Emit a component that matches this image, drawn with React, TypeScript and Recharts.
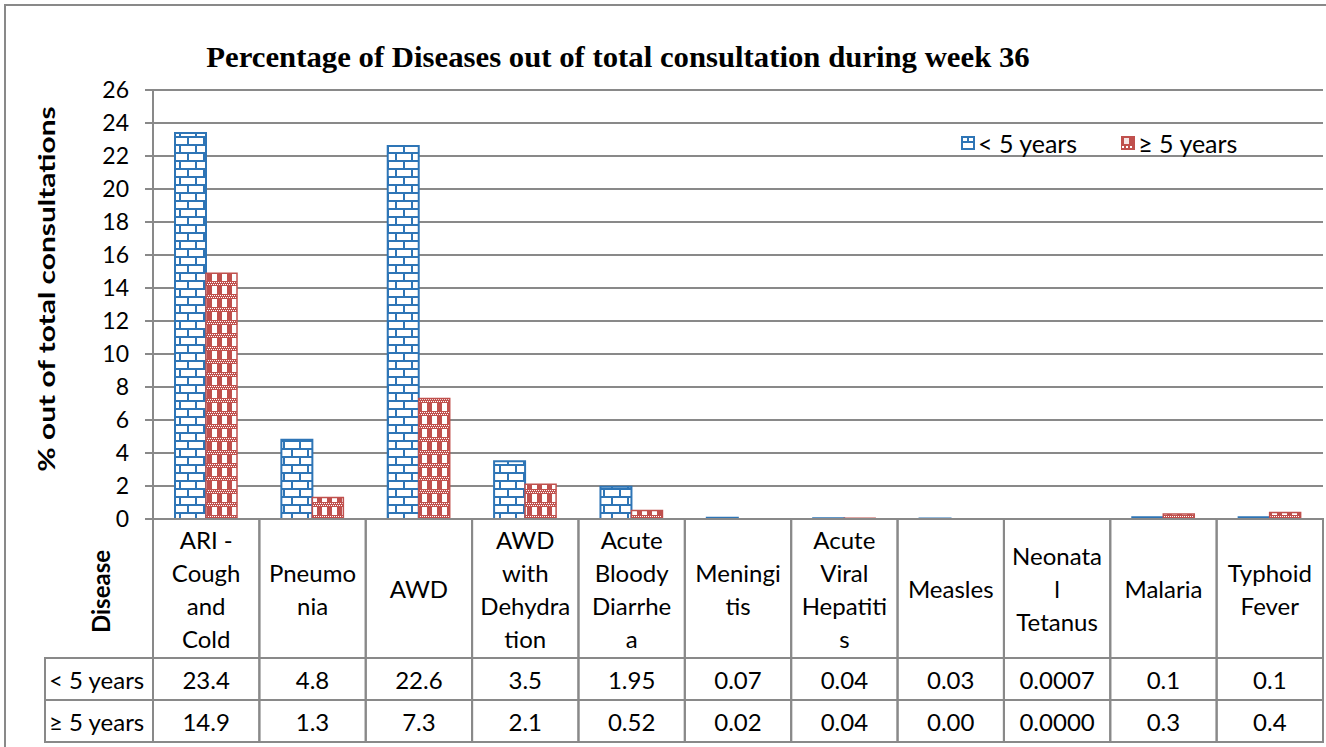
import React from 'react';
import { BarChart, Bar, XAxis, YAxis, CartesianGrid } from 'recharts';

const categories = [
  'ARI -\nCough\nand\nCold',
  'Pneumo\nnia',
  'AWD',
  'AWD\nwith\nDehydra\ntion',
  'Acute\nBloody\nDiarrhe\na',
  'Meningi\ntis',
  'Acute\nViral\nHepatiti\ns',
  'Measles',
  'Neonata\nl\nTetanus',
  'Malaria',
  'Typhoid\nFever',
];
const under5 = [23.4, 4.8, 22.6, 3.5, 1.95, 0.07, 0.04, 0.03, 0.0007, 0.1, 0.1];
const over5 = [14.9, 1.3, 7.3, 2.1, 0.52, 0.02, 0.04, 0.0, 0.0, 0.3, 0.4];
const under5Labels = ['23.4', '4.8', '22.6', '3.5', '1.95', '0.07', '0.04', '0.03', '0.0007', '0.1', '0.1'];
const over5Labels = ['14.9', '1.3', '7.3', '2.1', '0.52', '0.02', '0.04', '0.00', '0.0000', '0.3', '0.4'];
const yTicks = [0, 2, 4, 6, 8, 10, 12, 14, 16, 18, 20, 22, 24, 26];
const seriesNames = ['< 5 years', '≥ 5 years'];

const data = categories.map((c, i) => ({ disease: c, under5: under5[i], over5: over5[i] }));

const W = 1326;
const H = 747;
const LEFT = 153;
const RIGHT = 3;
const TOP = 90;
const AXIS_H = 228;
const BAND = (W - LEFT - RIGHT) / categories.length;
const HEADER_H = 139;
const ROW_H = 42;
const GRID = '#898989';
const BLUE = '#2E75B6';
const RED = '#C0504D';
const FONT = 'Lato, "Open Sans", sans-serif';

const TableTick = (props: any) => {
  const { x, y, payload } = props;
  const i = categories.indexOf(payload.value);
  const left = x - BAND / 2;
  const lines = String(payload.value).split('\n');
  const cy = y + HEADER_H / 2;
  const lh = 33;
  const r1 = y + HEADER_H;
  const r2 = r1 + ROW_H;
  const txt = { fontFamily: FONT, fontSize: 24, fill: '#000' };
  return (
    <g>
      <rect x={left} y={y} width={BAND} height={HEADER_H + ROW_H * 2} fill="none" stroke={GRID} strokeWidth={2} />
      <line x1={left} x2={left + BAND} y1={r1} y2={r1} stroke={GRID} strokeWidth={2} />
      <line x1={left} x2={left + BAND} y1={r2} y2={r2} stroke={GRID} strokeWidth={2} />
      {lines.map((l, k) => (
        <text key={k} x={x} y={cy + (k - (lines.length - 1) / 2) * lh} textAnchor="middle" dominantBaseline="central" {...txt}>
          {l}
        </text>
      ))}
      <text x={x} y={r1 + ROW_H / 2} textAnchor="middle" dominantBaseline="central" {...txt}>{under5Labels[i]}</text>
      <text x={x} y={r2 + ROW_H / 2} textAnchor="middle" dominantBaseline="central" {...txt}>{over5Labels[i]}</text>
      {i === 0 && (
        <g>
          <rect x={45} y={r1} width={left - 45} height={ROW_H * 2} fill="none" stroke={GRID} strokeWidth={2} />
          <line x1={45} x2={left} y1={r2} y2={r2} stroke={GRID} strokeWidth={2} />
          <text x={49} y={r1 + ROW_H / 2} dominantBaseline="central" {...txt}>{seriesNames[0]}</text>
          <text x={49} y={r2 + ROW_H / 2} dominantBaseline="central" {...txt}>{seriesNames[1]}</text>
          <text
            x={100}
            y={cy + 3}
            transform={`rotate(-90 100 ${cy + 3})`}
            textAnchor="middle"
            dominantBaseline="central"
            fontWeight="bold"
            {...txt}
          >
            Disease
          </text>
        </g>
      )}
    </g>
  );
};

const LegendIcon = ({ color, kind }: { color: string; kind: string }) => (
  <svg width={14} height={14} style={{ marginRight: 3 }}>
    {kind === 'brick' ? (
      <g>
        <rect x={1} y={1} width={12} height={12} fill="#fff" stroke={color} strokeWidth={2} />
        <line x1={1} x2={13} y1={6} y2={6} stroke={color} strokeWidth={2} />
        <line x1={7} x2={7} y1={1} y2={6} stroke={color} strokeWidth={2} />
      </g>
    ) : (
      <g>
        <rect x={0} y={0} width={14} height={14} fill={color} />
        <rect x={3} y={2} width={5} height={6} fill="#fff" opacity={0.85} />
        <rect x={1} y={10} width={2} height={2} fill="#fff" />
        <rect x={5} y={10} width={2} height={2} fill="#fff" />
        <rect x={9} y={10} width={2} height={2} fill="#fff" />
      </g>
    )}
  </svg>
);

export default function App() {
  return (
    <div style={{ position: 'relative', width: W, height: H, background: '#fff', overflow: 'hidden' }}>
      <style>{'body{margin:0}'}</style>
      <div
        style={{
          position: 'absolute',
          left: 4,
          top: 4,
          width: W,
          height: H,
          borderTop: `2px solid ${GRID}`,
          borderLeft: `2px solid ${GRID}`,
        }}
      />
      <div style={{ position: 'absolute', left: 0, top: 0 }}>
        <BarChart width={W} height={H} data={data} margin={{ top: TOP, right: RIGHT, bottom: 0, left: 0 }} barGap={0}>
          <defs>
            <pattern id="brick" width={16} height={16} patternUnits="userSpaceOnUse">
              <rect width={16} height={16} fill="#fff" />
              <line x1={0} x2={16} y1={1} y2={1} stroke={BLUE} strokeWidth={2} />
              <line x1={0} x2={16} y1={9} y2={9} stroke={BLUE} strokeWidth={2} />
              <line x1={4} x2={4} y1={1} y2={9} stroke={BLUE} strokeWidth={2} />
              <line x1={12} x2={12} y1={9} y2={17} stroke={BLUE} strokeWidth={2} />
            </pattern>
            <pattern id="check" width={10} height={13} patternUnits="userSpaceOnUse">
              <rect width={10} height={13} fill={RED} />
              <rect x={2} y={0} width={5} height={8} fill="#fff" />
              <rect x={0} y={9} width={1} height={1} fill="#fff" />
              <rect x={2} y={9} width={1} height={1} fill="#fff" />
              <rect x={4} y={9} width={1} height={1} fill="#fff" />
              <rect x={6} y={9} width={1} height={1} fill="#fff" />
              <rect x={8} y={9} width={1} height={1} fill="#fff" />
              <rect x={1} y={11} width={1} height={1} fill="#fff" />
              <rect x={3} y={11} width={1} height={1} fill="#fff" />
              <rect x={5} y={11} width={1} height={1} fill="#fff" />
              <rect x={7} y={11} width={1} height={1} fill="#fff" />
              <rect x={9} y={11} width={1} height={1} fill="#fff" />
            </pattern>
          </defs>
          <CartesianGrid vertical={false} stroke={GRID} strokeWidth={2} />
          <XAxis
            dataKey="disease"
            height={AXIS_H}
            axisLine={{ stroke: GRID, strokeWidth: 2 }}
            tickLine={false}
            tickSize={0}
            tickMargin={0}
            interval={0}
            tick={<TableTick />}
          />
          <YAxis
            width={LEFT}
            domain={[0, 26]}
            ticks={yTicks}
            interval={0}
            axisLine={{ stroke: GRID, strokeWidth: 2 }}
            tickLine={{ stroke: GRID, strokeWidth: 2 }}
            tickSize={8}
            tickMargin={16}
            tick={{ fontFamily: FONT, fontSize: 23, fill: '#000' }}
          />
          <Bar dataKey="under5" name={seriesNames[0]} barSize={31} fill="url(#brick)" stroke={BLUE} strokeWidth={2} isAnimationActive={false} />
          <Bar dataKey="over5" name={seriesNames[1]} barSize={31} fill="url(#check)" stroke={RED} strokeWidth={1.5} isAnimationActive={false} />
        </BarChart>
      </div>
      <div
        style={{
          position: 'absolute',
          left: 618,
          top: 57,
          transform: 'translate(-50%, -50%) scaleX(1.06)',
          whiteSpace: 'nowrap',
          fontFamily: '"Liberation Serif", serif',
          fontWeight: 'bold',
          fontSize: 29,
        }}
      >
        Percentage of Diseases out of total consultation during week 36
      </div>
      <div
        style={{
          position: 'absolute',
          left: 46,
          top: 289,
          transform: 'translate(-50%, -50%) rotate(-90deg) scaleX(1.3)',
          whiteSpace: 'nowrap',
          fontFamily: FONT,
          fontWeight: 'bold',
          fontSize: 23,
        }}
      >
        % out of total consultations
      </div>
      <div
        style={{
          position: 'absolute',
          left: 961,
          top: 128,
          display: 'flex',
          alignItems: 'center',
          fontFamily: FONT,
          fontSize: 25,
          color: '#000',
        }}
      >
        <LegendIcon color={BLUE} kind="brick" />
        <span style={{ marginRight: 44 }}>{seriesNames[0]}</span>
        <LegendIcon color={RED} kind="check" />
        <span>{seriesNames[1]}</span>
      </div>
    </div>
  );
}
